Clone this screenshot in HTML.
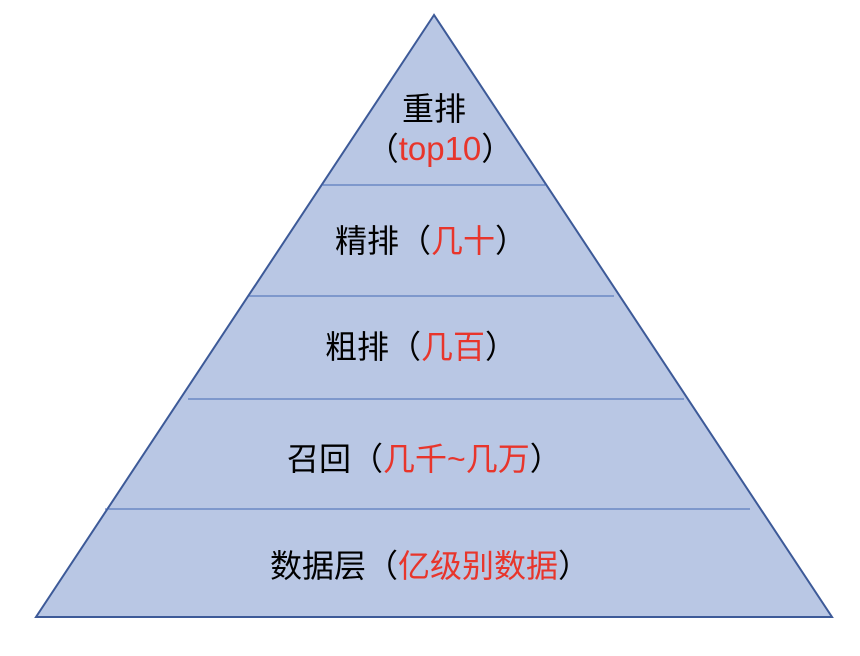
<!DOCTYPE html>
<html><head><meta charset="utf-8"><style>
html,body{margin:0;padding:0;background:#fff;}
svg{display:block;}
text{font-family:"Liberation Sans","Noto Sans CJK SC",sans-serif;font-size:32px;fill:#000;}
.r{fill:#e8352b;}
</style></head><body>
<svg width="860" height="656" viewBox="0 0 860 656">
<polygon points="434,15 36,617 832,617" fill="#b9c7e4" stroke="#3d5a98" stroke-width="2"/>
<g stroke="#4468b4" stroke-width="1">
<line x1="322" y1="185" x2="546" y2="185"/>
<line x1="249" y1="296" x2="614" y2="296"/>
<line x1="188" y1="399" x2="684" y2="399"/>
<line x1="105" y1="509" x2="750" y2="509"/>
</g>
<text x="402" y="120">重排</text>
<text x="440" y="160" text-anchor="middle">（<tspan class="r" style="font-size:33px">top10</tspan>）</text>
<text x="335" y="252">精排（<tspan class="r">几十</tspan>）</text>
<text x="325" y="358">粗排（<tspan class="r">几百</tspan>）</text>
<text x="287" y="470">召回（<tspan class="r">几千~几万</tspan>）</text>
<text x="270" y="577">数据层（<tspan class="r">亿级别数据</tspan>）</text>
</svg>
</body></html>
